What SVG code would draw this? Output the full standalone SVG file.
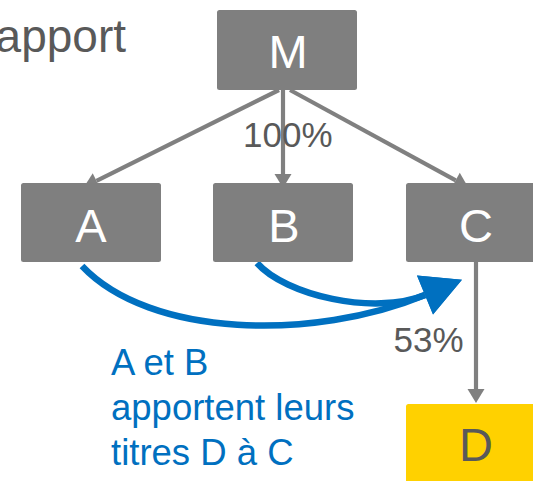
<svg xmlns="http://www.w3.org/2000/svg" width="533" height="481" viewBox="0 0 533 481">
  <style>
    .box { fill: #7f7f7f; }
    .box-d { fill: #ffd100; }
    .lbl { font-family: "Liberation Sans", Arial, sans-serif; font-size: 47px; text-anchor: middle; fill: #ffffff; }
    .lbl-d { fill: #595959; }
    .txt { font-family: "Liberation Sans", Arial, sans-serif; fill: #595959; }
    .note { font-family: "Liberation Sans", Arial, sans-serif; font-size: 36.5px; fill: #0070c0; }
    .link { fill: none; stroke: #808080; stroke-width: 4.2; }
    .flow { fill: none; stroke: #0070c0; stroke-width: 6.5; }
  </style>
  <defs>
    <marker id="head-gray" markerUnits="userSpaceOnUse" markerWidth="14" markerHeight="17" refX="0" refY="8.5" orient="auto" overflow="visible">
      <path d="M0,0 L14,8.5 L0,17 z" fill="#808080"/>
    </marker>
    <marker id="head-blue" markerUnits="userSpaceOnUse" markerWidth="40" markerHeight="42" refX="0" refY="21" orient="auto" overflow="visible">
      <path d="M0,0 L40,21 L0,42 z" fill="#0070c0"/>
    </marker>
  </defs>

  <!-- partial title running off the left edge -->
  <text class="txt" x="126" y="52" font-size="46" text-anchor="end">apport</text>

  <!-- connectors -->
  <g id="connectors">
    <line class="link" x1="279" y1="90" x2="96.5" y2="180.8" marker-end="url(#head-gray)"/>
    <line class="link" x1="283" y1="90" x2="283" y2="174" marker-end="url(#head-gray)"/>
    <line class="link" x1="290" y1="90" x2="455.7" y2="180.3" marker-end="url(#head-gray)"/>
    <line class="link" x1="476" y1="262" x2="476" y2="389" marker-end="url(#head-gray)"/>
    <path class="flow" d="M82,266 C150,338 314,341 425,295" marker-end="url(#head-blue)"/>
    <path class="flow" d="M257,263 C285,295 374,316 425,295" marker-end="url(#head-blue)"/>
  </g>

  <!-- edge labels -->
  <text class="txt" x="243" y="147" font-size="35">100%</text>
  <text class="txt" x="393.6" y="352" font-size="35">53%</text>

  <!-- nodes -->
  <g id="node-m">
    <rect class="box" x="217" y="10" width="140" height="80" rx="2.5"/>
    <text class="lbl" x="288" y="68">M</text>
  </g>
  <g id="node-a">
    <rect class="box" x="21" y="183" width="140" height="79" rx="2.5"/>
    <text class="lbl" x="91" y="242">A</text>
  </g>
  <g id="node-b">
    <rect class="box" x="213" y="183" width="140" height="79" rx="2.5"/>
    <text class="lbl" x="284" y="242">B</text>
  </g>
  <g id="node-c">
    <rect class="box" x="406" y="183" width="140" height="79" rx="2.5"/>
    <text class="lbl" x="476" y="242">C</text>
  </g>
  <g id="node-d">
    <rect class="box-d" x="406" y="404" width="140" height="80" rx="2.5"/>
    <text class="lbl lbl-d" x="476" y="461">D</text>
  </g>

  <!-- explanatory note -->
  <text class="note" x="111" y="375">A et B</text>
  <text class="note" x="111" y="420">apportent leurs</text>
  <text class="note" x="111" y="465">titres D à C</text>
</svg>
